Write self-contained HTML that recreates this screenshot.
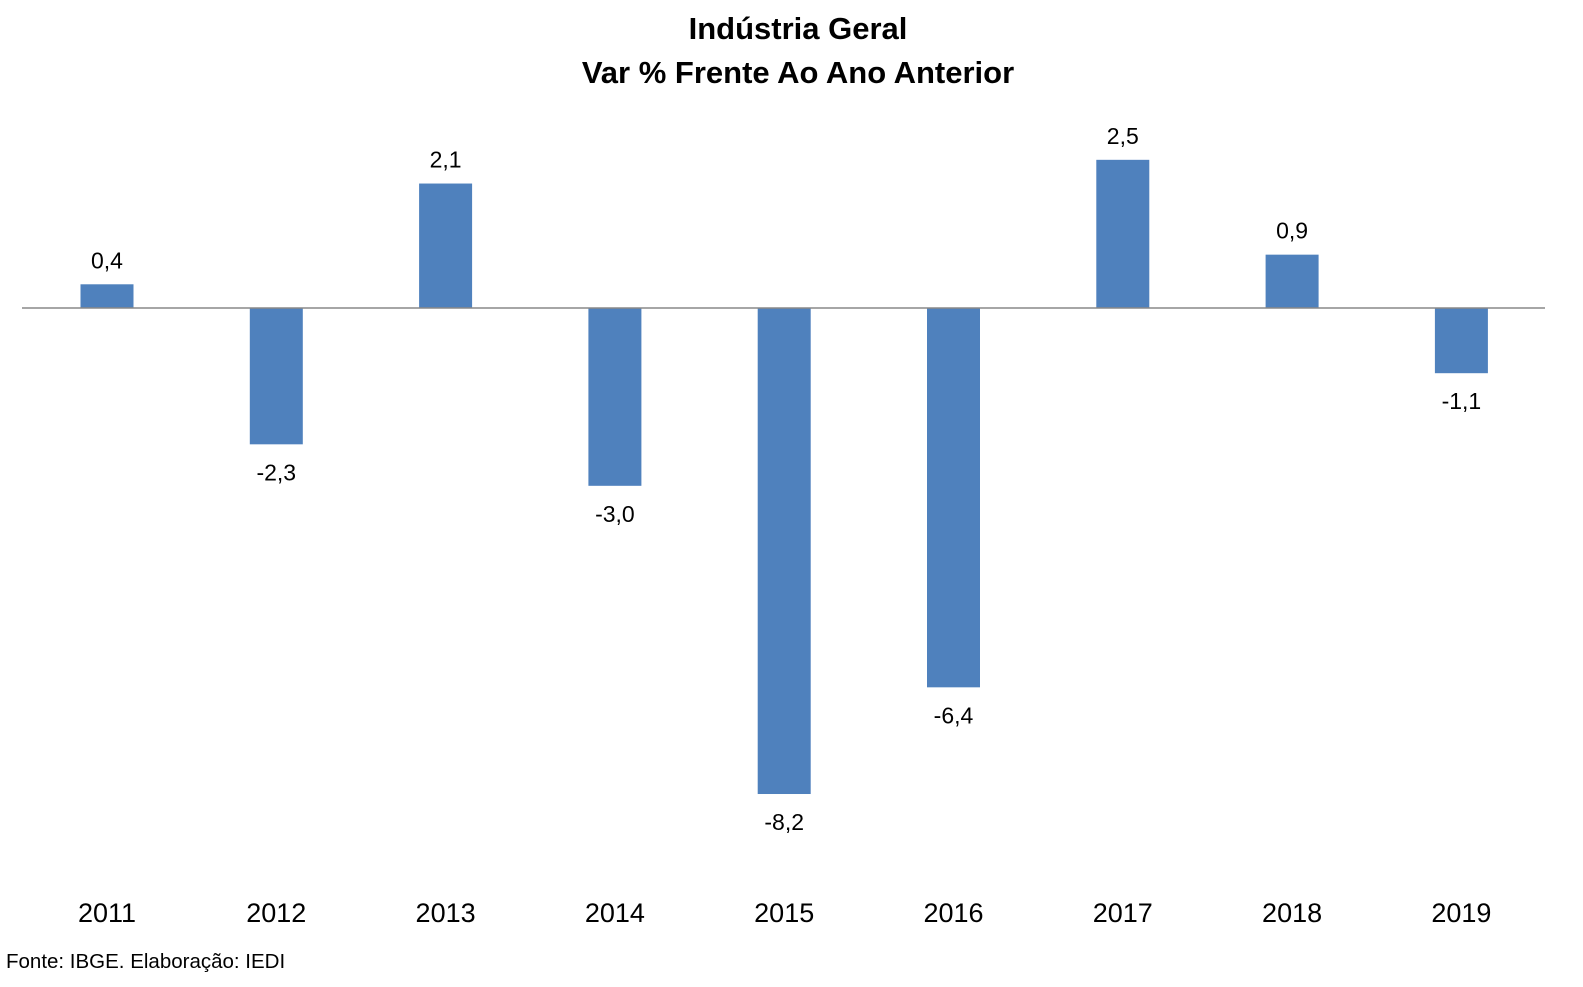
<!DOCTYPE html>
<html><head><meta charset="utf-8"><style>
body{margin:0;background:#fff;}
svg{display:block;font-family:"Liberation Sans",sans-serif;}
</style></head><body>
<svg id="chart" width="1583" height="987">
<text x="798" y="39" text-anchor="middle" font-size="31" font-weight="bold">Indústria Geral</text>
<text x="798" y="83" text-anchor="middle" font-size="31" font-weight="bold">Var % Frente Ao Ano Anterior</text>
<g id="bars"></g>
<line x1="22" y1="308" x2="1545" y2="308" stroke="#888" stroke-width="1.5"/>
<text x="6" y="968" font-size="20.5">Fonte: IBGE. Elaboração: IEDI</text>
</svg>
<script>
const categories=["2011","2012","2013","2014","2015","2016","2017","2018","2019"];
const values=[0.4,-2.3,2.1,-3.0,-8.2,-6.4,2.5,0.9,-1.1];
const labels=["0,4","-2,3","2,1","-3,0","-8,2","-6,4","2,5","0,9","-1,1"];
const ns="http://www.w3.org/2000/svg";
const zeroY=308, pxPerUnit=59.27, firstX=107, step=169.3, bw=53;
function xScale(i){return firstX+i*step;}
function yScale(v){return zeroY-v*pxPerUnit;}
const g=document.getElementById('bars');
categories.forEach((c,i)=>{
  const v=values[i], cx=xScale(i), y=yScale(v);
  const r=document.createElementNS(ns,'rect');
  r.setAttribute('x',cx-bw/2);r.setAttribute('y',Math.min(y,zeroY));
  r.setAttribute('width',bw);r.setAttribute('height',Math.abs(y-zeroY));
  r.setAttribute('fill','#4f81bd');
  
  
  g.appendChild(r);
  const t=document.createElementNS(ns,'text');
  t.setAttribute('x',cx);t.setAttribute('y',v>=0?y-16:y+36);
  t.setAttribute('text-anchor','middle');t.setAttribute('font-size','23');
  t.textContent=labels[i];
  
  
  g.appendChild(t);
  const a=document.createElementNS(ns,'text');
  a.setAttribute('x',cx);a.setAttribute('y',922);
  a.setAttribute('text-anchor','middle');a.setAttribute('font-size','27');
  a.textContent=c;
  
  
  g.appendChild(a);
});
</script>
</body></html>
